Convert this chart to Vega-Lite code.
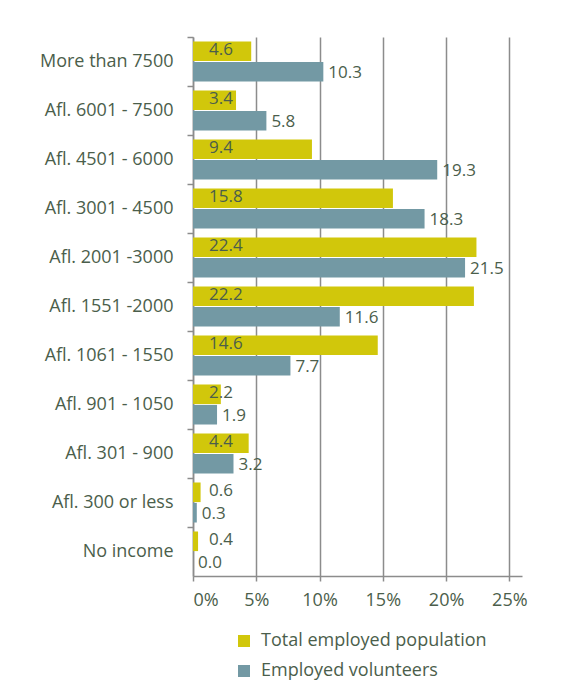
{
  "$schema": "https://vega.github.io/schema/vega-lite/v6.json",
  "width": 329,
  "height": 539,
  "autosize": {"type": "none"},
  "padding": {"left": 193, "top": 37, "right": 46, "bottom": 104},
  "background": "white",
  "config": {
    "font": "Open Sans",
    "view": {"stroke": null},
    "axis": {
      "domainColor": "#8C8C8C",
      "domainWidth": 1.5,
      "tickColor": "#8C8C8C",
      "tickWidth": 1.5,
      "labelColor": "#4B5E4B",
      "labelFontSize": 18,
      "labelFont": "Open Sans",
      "title": null
    }
  },
  "data": {
    "values": [
      {"income": "More than 7500", "series": "Total employed population", "value": 4.6},
      {"income": "More than 7500", "series": "Employed volunteers", "value": 10.3},
      {"income": "Afl. 6001 - 7500", "series": "Total employed population", "value": 3.4},
      {"income": "Afl. 6001 - 7500", "series": "Employed volunteers", "value": 5.8},
      {"income": "Afl. 4501 - 6000", "series": "Total employed population", "value": 9.4},
      {"income": "Afl. 4501 - 6000", "series": "Employed volunteers", "value": 19.3},
      {"income": "Afl. 3001 - 4500", "series": "Total employed population", "value": 15.8},
      {"income": "Afl. 3001 - 4500", "series": "Employed volunteers", "value": 18.3},
      {"income": "Afl. 2001 -3000", "series": "Total employed population", "value": 22.4},
      {"income": "Afl. 2001 -3000", "series": "Employed volunteers", "value": 21.5},
      {"income": "Afl. 1551 -2000", "series": "Total employed population", "value": 22.2},
      {"income": "Afl. 1551 -2000", "series": "Employed volunteers", "value": 11.6},
      {"income": "Afl. 1061 - 1550", "series": "Total employed population", "value": 14.6},
      {"income": "Afl. 1061 - 1550", "series": "Employed volunteers", "value": 7.7},
      {"income": "Afl. 901 - 1050", "series": "Total employed population", "value": 2.2},
      {"income": "Afl. 901 - 1050", "series": "Employed volunteers", "value": 1.9},
      {"income": "Afl. 301 - 900", "series": "Total employed population", "value": 4.4},
      {"income": "Afl. 301 - 900", "series": "Employed volunteers", "value": 3.2},
      {"income": "Afl. 300 or less", "series": "Total employed population", "value": 0.6},
      {"income": "Afl. 300 or less", "series": "Employed volunteers", "value": 0.3},
      {"income": "No income", "series": "Total employed population", "value": 0.4},
      {"income": "No income", "series": "Employed volunteers", "value": 0.0}
    ]
  },
  "encoding": {
    "y": {
      "field": "income",
      "type": "nominal",
      "sort": ["More than 7500", "Afl. 6001 - 7500", "Afl. 4501 - 6000", "Afl. 3001 - 4500", "Afl. 2001 -3000", "Afl. 1551 -2000", "Afl. 1061 - 1550", "Afl. 901 - 1050", "Afl. 301 - 900", "Afl. 300 or less", "No income"],
      "scale": {"paddingInner": 0, "paddingOuter": 0},
      "axis": {"bandPosition": 0, "tickSize": 6, "labelPadding": 14, "grid": false, "labelLimit": 200}
    },
    "yOffset": {
      "field": "series",
      "type": "nominal",
      "sort": ["Total employed population", "Employed volunteers"],
      "scale": {"paddingOuter": 0.22, "paddingInner": 0.04}
    }
  },
  "layer": [
    {
      "mark": {"type": "bar"},
      "encoding": {
        "x": {
          "field": "value",
          "type": "quantitative",
          "scale": {"domain": [0, 25]},
          "axis": {
            "values": [0, 5, 10, 15, 20, 25],
            "labelExpr": "datum.value + '%'",
            "grid": true,
            "gridColor": "#8C8C8C",
            "gridWidth": 1.5,
            "tickSize": 5,
            "labelPadding": 10
          }
        },
        "color": {
          "field": "series",
          "type": "nominal",
          "sort": ["Total employed population", "Employed volunteers"],
          "scale": {"domain": ["Total employed population", "Employed volunteers"], "range": ["#D1C70B", "#7399A4"]},
          "legend": {
            "title": null,
            "orient": "none",
            "legendX": 42,
            "legendY": 595,
            "direction": "vertical",
            "symbolType": "square",
            "symbolSize": 144,
            "symbolStrokeWidth": 0,
            "labelFont": "Open Sans",
            "labelFontSize": 18,
            "labelColor": "#4B5E4B",
            "labelLimit": 400,
            "labelOffset": 8,
            "rowPadding": 12
          }
        }
      }
    },
    {
      "transform": [{"filter": "datum.series === 'Total employed population'"}],
      "mark": {"type": "text", "align": "left", "baseline": "middle", "dx": 16, "dy": -1, "fontSize": 17, "color": "#4B5E4B"},
      "encoding": {
        "x": {"datum": 0, "type": "quantitative"},
        "text": {"field": "value", "type": "quantitative", "format": ".1f"}
      }
    },
    {
      "transform": [{"filter": "datum.series === 'Employed volunteers'"}],
      "mark": {"type": "text", "align": "left", "baseline": "middle", "dx": 5, "dy": 1, "fontSize": 17, "color": "#4B5E4B"},
      "encoding": {
        "x": {"field": "value", "type": "quantitative"},
        "text": {"field": "value", "type": "quantitative", "format": ".1f"}
      }
    }
  ]
}
